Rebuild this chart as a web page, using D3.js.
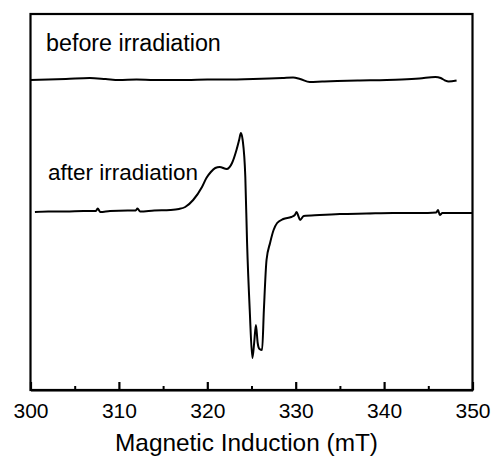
<!DOCTYPE html>
<html>
<head>
<meta charset="utf-8">
<script src="https://cdn.jsdelivr.net/npm/d3@7/dist/d3.min.js"></script>
<style>
  html, body { margin: 0; padding: 0; background: #fff; }
  svg { display: block; }
  text { font-family: "Liberation Sans", Arial, Helvetica, sans-serif; fill: #000; }
</style>
</head>
<body>
<script>
// Field values (mT) and signal (arbitrary units)
const beforeX = [300.0, 302, 304, 306.7, 308.5, 310, 312, 314, 317.7, 320, 322, 325.2, 327, 328.5, 329.7, 330.5, 331.6, 333, 334.7, 337, 340.3, 342, 344, 345.8, 346.4, 346.9, 347.3, 348.2];
const beforeY = [132, 132.5, 133, 134, 133, 132, 132.5, 132, 132, 132.5, 132.5, 133, 133.5, 134, 134.5, 133, 130, 130.5, 131, 131.5, 132, 132.5, 133.5, 135, 134, 131.5, 130.5, 131.5];

const afterX = [300.5, 302, 304, 306, 307.4, 307.6, 307.9, 309, 311, 311.9, 312.1, 312.4, 314, 315.8, 316.8, 317.5, 318.4, 319.4, 319.9, 320.4, 320.9, 321.4, 322.2, 322.8, 323.3, 323.6, 323.8, 324.0, 324.3, 324.5, 324.8, 325.1, 325.3, 325.5, 325.7, 325.9, 326.2, 326.4, 326.7, 327.1, 327.5, 327.9, 328.6, 329.5, 329.9, 330.1, 330.3, 330.5, 330.9, 332.7, 335, 338, 341, 344, 345.9, 346.1, 346.3, 346.6, 348, 350];
const afterY = [0, 0.5, 0.5, 1, 1, 3.5, 0, 1, 1.5, 1.5, 3.5, 0.5, 1.5, 2, 3, 5, 12, 25, 34, 40, 44, 45, 43, 49, 62, 72, 79, 72, 35, -31, -98, -146, -131, -113, -131, -137, -138, -98, -48, -31, -18, -11, -7, -5, -3, 0, -4, -8, -4, -3, -2, -1.5, -1, -1, -0.5, 2, -3, -1, -1, -1];

const majorTicks = [300, 310, 320, 330, 340, 350];
const minorTicks = [305, 315, 325, 335, 345];
const xTitle = "Magnetic Induction (mT)";
const labels = ["before irradiation", "after irradiation"];

const W = 493, H = 456;
const L = 30.5, R = 472.5, T = 14, B = 390;

const svg = d3.select("body").append("svg").attr("width", W).attr("height", H);

const x = d3.scaleLinear().domain([300, 350]).range([L, R]);
const y = d3.scaleLinear().domain([-178, 198]).range([B, T]);

// frame
svg.append("rect").attr("x", L).attr("y", T).attr("width", R - L).attr("height", B - T)
  .attr("fill", "none").attr("stroke", "#000").attr("stroke-width", 2.2);

// axis
const ax = svg.append("g").attr("transform", `translate(0,${B})`)
  .call(d3.axisBottom(x).tickValues(majorTicks).tickSizeInner(-8).tickSizeOuter(0).tickPadding(13).tickFormat(d3.format("d")));
ax.select(".domain").attr("stroke-width", 2.2);
ax.selectAll(".tick line").attr("stroke-width", 2.2);
ax.selectAll(".tick text").style("font-size", "21px").attr("fill", "#000").attr("font-family", null);

const axm = svg.append("g").attr("transform", `translate(0,${B})`)
  .call(d3.axisBottom(x).tickValues(minorTicks).tickSizeInner(-4).tickSizeOuter(0).tickFormat(""));
axm.select(".domain").remove();
axm.selectAll(".tick line").attr("stroke-width", 2);

svg.append("text").attr("x", 246.5).attr("y", 451).attr("text-anchor", "middle")
  .style("font-size", "24.4px").text(xTitle);

const line = d3.line().x(d => x(d[0])).y(d => y(d[1])).curve(d3.curveMonotoneX);

svg.append("path").datum(d3.zip(beforeX, beforeY)).attr("d", line)
  .attr("fill", "none").attr("stroke", "#000").attr("stroke-width", 2);
svg.append("path").datum(d3.zip(afterX, afterY)).attr("d", line)
  .attr("fill", "none").attr("stroke", "#000").attr("stroke-width", 2);

svg.append("text").attr("x", 46).attr("y", 51).style("font-size", "23.3px").text(labels[0]);
svg.append("text").attr("x", 48).attr("y", 180).style("font-size", "22.5px").text(labels[1]);
</script>
</body>
</html>
